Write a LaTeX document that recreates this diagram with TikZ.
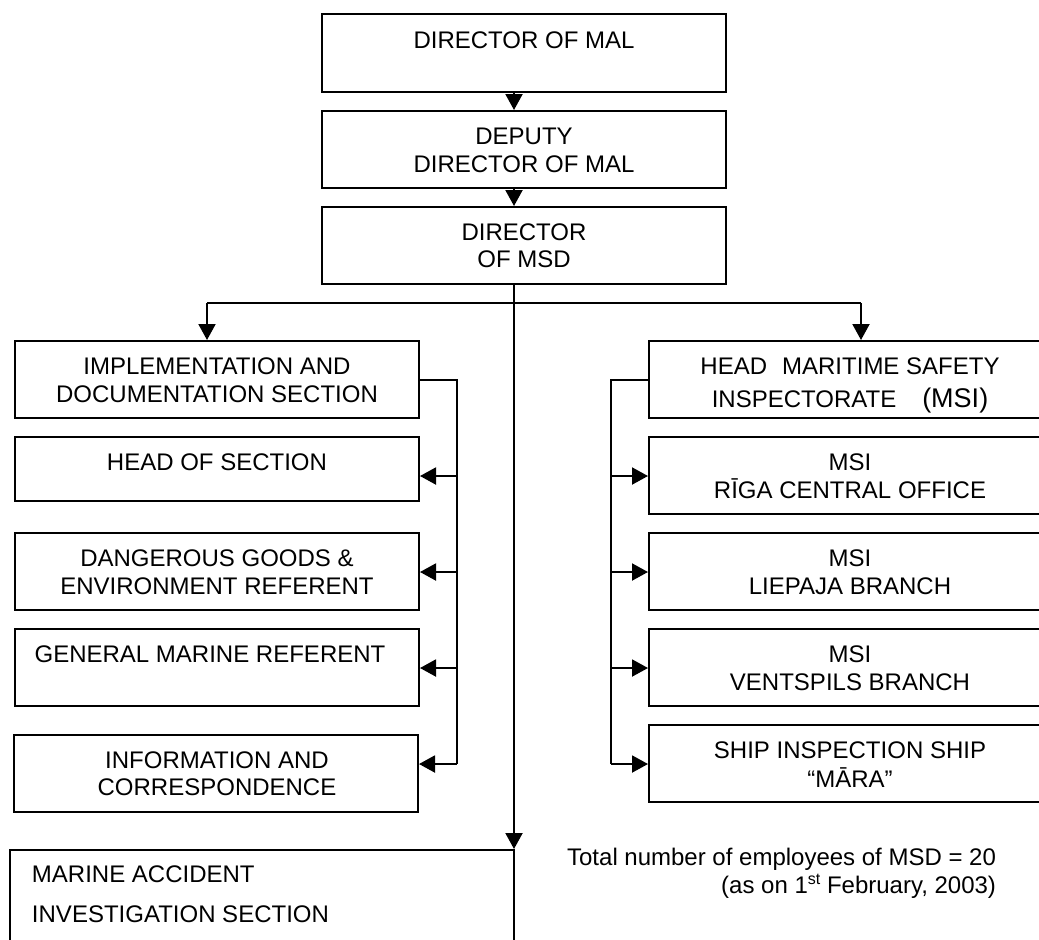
\documentclass[tikz,border=0pt]{standalone}
\usepackage{fontspec}
\setmainfont{Liberation Sans}
\usetikzlibrary{arrows.meta,fit}
\begin{document}
\begin{tikzpicture}[x=0.5pt,y=-0.5pt,
  line width=1pt,
  box/.style={draw,line width=1pt,inner sep=0pt,rectangle},
  txt/.style={font=\fontsize{12pt}{14pt}\selectfont,inner sep=0pt,anchor=base},
  txtl/.style={txt,anchor=base west},
  txtr/.style={txt,anchor=base east},
  arr/.style={-{Triangle[length=8pt,width=8.5pt]}}]
\useasboundingbox (0,0) rectangle (1039,939);
\clip (0,0) rectangle (1039,939);
% boxes
\node[box,fit={(322,14)(726,92)}] (mal) {};
\node[box,fit={(322,111)(726,188)}] (dep) {};
\node[box,fit={(322,207)(726,284)}] (msd) {};
\node[box,fit={(15,341)(419,418)}] (impl) {};
\node[box,fit={(15,437)(419,501)}] (head) {};
\node[box,fit={(15,533)(419,610)}] (dg) {};
\node[box,fit={(15,629)(419,706)}] (gm) {};
\node[box,fit={(14,735)(418,812)}] (info) {};
\node[box,fit={(10,850)(514,1000)}] (mai) {};
\node[box,fit={(649,341)(1051,418)}] (hmsi) {};
\node[box,fit={(649,437)(1051,514)}] (riga) {};
\node[box,fit={(649,533)(1051,610)}] (liep) {};
\node[box,fit={(649,629)(1051,706)}] (vent) {};
\node[box,fit={(649,725)(1051,802)}] (ship) {};
% texts
\node[txt] (mal-1) at (524,48) {DIRECTOR OF MAL};
\node[txt] (dep-1) at (524,144) {DEPUTY};
\node[txt] (dep-2) at (524,172) {DIRECTOR OF MAL};
\node[txt] (msd-1) at (524,240) {DIRECTOR};
\node[txt] (msd-2) at (524,267) {OF MSD};
\node[txt] (impl-1) at (217,374) {IMPLEMENTATION AND};
\node[txt] (impl-2) at (217,402) {DOCUMENTATION SECTION};
\node[txt] (head-1) at (217,470) {HEAD OF SECTION};
\node[txt] (dg-1) at (217,566) {DANGEROUS GOODS \&};
\node[txt] (dg-2) at (217,594) {ENVIRONMENT REFERENT};
\node[txt] (gm-1) at (210,662) {GENERAL MARINE REFERENT};
\node[txt] (info-1) at (217,768) {INFORMATION AND};
\node[txt] (info-2) at (217,795) {CORRESPONDENCE};
\node[txtl] (mai-1) at (31,882) {MARINE ACCIDENT};
\node[txtl] (mai-2) at (31,922) {INVESTIGATION SECTION};
\node[txt] (hmsi-1) at (850,374) {HEAD\hspace{7.5pt}MARITIME SAFETY};
\node[txt] (hmsi-2) at (850,407) {INSPECTORATE\hspace{13pt}{\fontsize{13.5pt}{15pt}\selectfont (MSI)}};
\node[txt] (riga-1) at (850,470) {MSI};
\node[txt] (riga-2) at (850,498) {RĪGA CENTRAL OFFICE};
\node[txt] (liep-1) at (850,566) {MSI};
\node[txt] (liep-2) at (850,594) {LIEPAJA BRANCH};
\node[txt] (vent-1) at (850,662) {MSI};
\node[txt] (vent-2) at (850,690) {VENTSPILS BRANCH};
\node[txt] (ship-1) at (850,758) {SHIP INSPECTION SHIP};
\node[txt] (ship-2) at (850,787) {“MĀRA”};
\node[txtr] (tot-1) at (997,865) {Total number of employees of MSD = 20};
\node[txtr] (tot-2) at (997,893) {(as on 1\raisebox{4.5pt}{\fontsize{8pt}{9pt}\selectfont st} February, 2003)};
% connector coordinates
\coordinate (sp) at (514,303);
\coordinate (bl) at (207,303);
\coordinate (br) at (861,303);
\coordinate (lbt) at (457,379.5);
\coordinate (lb1) at (457,476);
\coordinate (lb2) at (457,572);
\coordinate (lb3) at (457,668);
\coordinate (lb4) at (457,764);
\coordinate (rbt) at (611,379.5);
\coordinate (rb1) at (611,476);
\coordinate (rb2) at (611,572);
\coordinate (rb3) at (611,668);
\coordinate (rb4) at (611,764);
% top chain
\draw[arr] (mal.south -| sp) -- (dep.north -| sp);
\draw[arr] (dep.south -| sp) -- (msd.north -| sp);
\draw (msd.south -| sp) -- (sp);
\draw (bl) -- (br);
\draw[arr] (bl) -- (bl |- impl.north);
\draw[arr] (br) -- (br |- hmsi.north);
\draw[arr] (sp) -- (sp |- mai.north);
% left bracket
\draw (impl.east) -- (lbt) -- (lb4);
\draw[arr] (lb1) -- (lb1 -| head.east);
\draw[arr] (lb2) -- (lb2 -| dg.east);
\draw[arr] (lb3) -- (lb3 -| gm.east);
\draw[arr] (lb4) -- (lb4 -| info.east);
% right bracket
\draw (hmsi.west) -- (rbt) -- (rb4);
\draw[arr] (rb1) -- (rb1 -| riga.west);
\draw[arr] (rb2) -- (rb2 -| liep.west);
\draw[arr] (rb3) -- (rb3 -| vent.west);
\draw[arr] (rb4) -- (rb4 -| ship.west);
\end{tikzpicture}
\end{document}
